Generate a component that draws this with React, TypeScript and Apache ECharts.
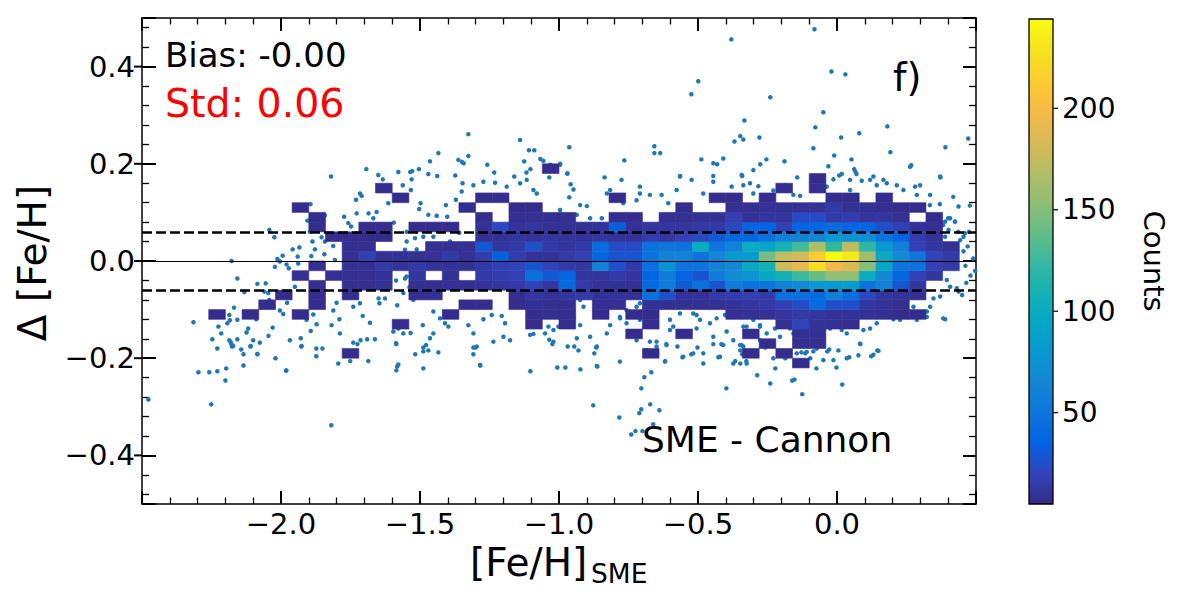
import React, { useEffect, useRef } from 'react';
import * as echarts from 'echarts';

const FONT = 'DejaVu Sans';

// axes
const X_MIN = -2.5;
const X_MAX = 0.5;
const X_MAJOR = 0.5;
const Y_MIN = -0.5;
const Y_MAX = 0.5;
const Y_MAJOR = 0.2;
const Y_TICKS = [-0.4, -0.2, 0, 0.2, 0.4];

// 2-D histogram binning
const BIN_X0 = -2.5;
const BIN_W = 0.06;
const BIN_Y0 = -0.5;
const BIN_H = 0.02;

// colour bar
const CB_MIN = 5;
const CB_MAX = 244;
const CB_TICKS = [50, 100, 150, 200];

// statistics
const BIAS = 0;
const BIAS_LABEL = '-0.00';
const STD = 0.06;

const PARULA = [
  '#352a87', '#3243ba', '#0363e1', '#0d75dc', '#1485d4', '#0998d1', '#06a7c6', '#15b1b4',
  '#38b99e', '#65be86', '#92bf73', '#b7bd64', '#d9ba56', '#f8ba44', '#fcce2e', '#f5e41d', '#f9fb0e',
];

// [row index j, first column index i, counts for consecutive columns (0 = empty)]
const HIST_ROWS: [number, number, number[]][] = [
  [14, 39, [7]],
  [15, 12, [7]],
  [15, 30, [7, 0, 0, 0, 0, 0, 7, 0, 7]],
  [16, 37, [7, 0, 8, 8]],
  [17, 29, [7, 0, 0, 7, 0, 0, 0, 7, 0, 0, 9, 9]],
  [18, 15, [7, 0, 0, 0, 0, 0, 0, 0, 7, 0, 7, 0, 0, 0, 0, 7, 0, 0, 0, 0, 0, 0, 0, 8, 20, 10, 9, 7]],
  [19, 4, [7, 0, 7, 0, 0, 7]],
  [19, 18, [7, 0, 0, 0, 0, 7, 8, 8, 0, 7, 0, 7, 7, 0, 0, 0, 0, 8, 9, 9, 12, 14, 12, 10, 10, 9, 8, 7, 7]],
  [20, 7, [7, 0, 0, 7]],
  [20, 19, [7, 7, 0, 7, 9, 8, 8, 0, 8, 8, 0, 9, 8, 8, 9, 9, 10, 12, 14, 18, 24, 42, 26, 26, 12, 10, 8]],
  [21, 8, [7, 0, 7, 0, 7, 0, 0, 0, 8, 8, 0, 0, 0, 0, 8, 12, 10, 12, 14, 9, 10, 9, 46, 26, 10, 10, 14, 16, 18, 14, 44, 46, 40, 58, 44, 22, 12, 10, 8]],
  [22, 10, [8, 0, 8, 8, 9, 0, 8, 8, 9, 8, 10, 12, 14, 20, 12, 40, 14, 10, 9, 9, 40, 56, 30, 46, 28, 56, 48, 48, 62, 68, 80, 82, 86, 48, 62, 28, 12]],
  [23, 9, [8, 0, 9, 8, 8, 10, 0, 12, 0, 9, 0, 14, 16, 18, 46, 30, 38, 12, 11, 14, 12, 38, 56, 36, 28, 56, 70, 76, 96, 108, 126, 140, 155, 155, 100, 66, 38, 18, 12]],
  [24, 10, [8, 0, 9, 9, 14, 10, 14, 10, 10, 9, 14, 18, 20, 28, 20, 15, 12, 62, 26, 14, 46, 74, 50, 50, 62, 68, 98, 108, 178, 192, 225, 196, 185, 150, 96, 50, 48, 18, 14]],
  [25, 12, [8, 18, 9, 10, 9, 10, 14, 9, 16, 34, 16, 10, 10, 15, 18, 38, 27, 27, 48, 62, 62, 48, 66, 82, 84, 145, 175, 182, 212, 244, 232, 160, 98, 68, 50, 20, 15]],
  [26, 12, [8, 8, 0, 0, 0, 8, 8, 8, 30, 12, 14, 26, 14, 12, 14, 42, 24, 24, 48, 50, 48, 100, 50, 62, 100, 92, 110, 128, 165, 122, 172, 120, 80, 60, 18, 12, 9]],
  [27, 11, [7, 7, 7, 7, 0, 0, 0, 0, 0, 9, 9, 12, 10, 12, 11, 10, 12, 10, 10, 16, 12, 18, 22, 30, 38, 38, 48, 60, 62, 64, 80, 76, 72, 48, 36, 16, 10]],
  [28, 10, [7, 0, 0, 7, 7, 0, 7, 7, 7, 0, 10, 22, 10, 12, 9, 9, 9, 10, 33, 10, 12, 12, 12, 14, 14, 22, 36, 36, 18, 36, 38, 42, 36, 36, 26, 18, 10, 8]],
  [29, 10, [7]],
  [29, 20, [7, 0, 8, 8, 8, 8, 0, 0, 7, 7, 0, 8, 8, 9, 9, 18, 10, 12, 11, 24, 24, 14, 16, 11, 12, 9, 0, 7]],
  [30, 9, [7]],
  [30, 19, [7, 0, 0, 7, 7]],
  [30, 32, [7, 0, 0, 8, 9, 10, 9, 9, 10, 14, 9, 9, 8, 7, 7]],
  [31, 15, [7, 0, 0, 0, 0, 7, 7, 0, 0, 0, 0, 0, 0, 7, 0, 0, 0, 0, 0, 7, 7, 0, 7, 0, 0, 0, 7, 7, 0, 7]],
  [32, 14, [7]],
  [32, 38, [7, 0, 8]],
  [33, 40, [7]],
  [34, 24, [7]],
];

// individual stars outside the dense bins: [Fe/H]_SME, delta [Fe/H]
const POINTS_TOP: [number, number][] = [
  [-1.820, 0.174], [-1.693, 0.189], [-1.650, 0.177], [-1.578, 0.183], [-1.535, 0.183], [-1.528, 0.185],
  [-1.504, 0.189], [-1.470, 0.179], [-1.464, 0.205], [-1.434, 0.222], [-1.438, 0.175], [-1.373, 0.176],
  [-1.362, 0.208], [-1.349, 0.204], [-1.343, 0.201], [-1.326, 0.261], [-1.326, 0.216], [-1.258, 0.198],
  [-1.233, 0.182], [-1.161, 0.174], [-1.140, 0.249], [-1.125, 0.205], [-1.117, 0.182], [-1.103, 0.189],
  [-1.108, 0.228], [-1.089, 0.228], [-1.067, 0.210], [-1.056, 0.206], [-1.035, 0.172], [-0.996, 0.198],
  [-0.970, 0.180], [-0.963, 0.234], [-0.836, 0.172], [-0.765, 0.207], [-0.657, 0.236], [-0.657, 0.222],
  [-0.636, 0.222], [-0.564, 0.175], [-0.524, 0.343], [-0.499, 0.370], [-0.488, 0.209], [-0.445, 0.201],
  [-0.431, 0.199], [-0.445, 0.175], [-0.409, 0.211], [-0.380, 0.456], [-0.369, 0.246], [-0.348, 0.257],
  [-0.337, 0.250], [-0.333, 0.289], [-0.341, 0.175], [-0.301, 0.187], [-0.279, 0.254], [-0.276, 0.199],
  [-0.254, 0.209], [-0.240, 0.337], [-0.189, 0.205], [-0.143, 0.172], [-0.085, 0.232], [-0.081, 0.477],
  [-0.078, 0.275], [-0.049, 0.306], [-0.031, 0.195], [-0.020, 0.390], [-0.010, 0.217], [0.015, 0.254],
  [0.008, 0.176], [0.030, 0.384], [0.052, 0.209], [0.062, 0.189], [0.066, 0.184], [0.070, 0.179],
  [0.080, 0.263], [0.131, 0.174], [0.181, 0.277], [0.192, 0.224], [0.267, 0.197], [0.372, 0.172],
  [0.390, 0.234], [0.472, 0.252],
];

const POINTS_BOTTOM: [number, number][] = [
  [-2.229, -0.180], [-2.176, -0.176], [-2.179, -0.171], [-2.143, -0.182], [-2.135, -0.192], [-2.110, -0.176],
  [-2.085, -0.192], [-2.020, -0.200], [-1.927, -0.176], [-1.873, -0.180], [-1.851, -0.180], [-1.873, -0.196],
  [-1.725, -0.171], [-1.585, -0.171], [-1.488, -0.178], [-1.488, -0.186], [-1.470, -0.184], [-1.517, -0.192],
  [-1.434, -0.188], [-1.308, -0.178], [-1.301, -0.178], [-1.308, -0.192], [-1.024, -0.171], [-2.297, -0.229],
  [-2.258, -0.229], [-2.229, -0.227], [-2.197, -0.221], [-2.200, -0.246], [-2.135, -0.215], [-1.981, -0.225],
  [-1.794, -0.211], [-1.751, -0.206], [-1.686, -0.206], [-1.585, -0.225], [-1.582, -0.217], [-1.578, -0.213],
  [-1.488, -0.221], [-1.283, -0.215], [-1.103, -0.227], [-1.006, -0.219], [-2.477, -0.285], [-2.251, -0.295],
  [-1.819, -0.338], [-1.284, -0.214],
  [-0.969, -0.176], [-0.945, -0.176], [-0.930, -0.184], [-0.866, -0.178], [-0.873, -0.190], [-0.977, -0.219],
  [-0.923, -0.223], [-0.862, -0.217], [-0.877, -0.297], [-0.783, -0.322], [-0.740, -0.357], [-0.725, -0.350],
  [-0.700, -0.350], [-0.661, -0.336], [-0.711, -0.313], [-0.704, -0.305], [-0.672, -0.295], [-0.639, -0.307],
  [-0.704, -0.262], [-0.693, -0.239], [-0.668, -0.229], [-0.618, -0.206], [-0.614, -0.171], [-0.574, -0.176],
  [-0.556, -0.198], [-0.524, -0.192], [-0.502, -0.178], [-0.481, -0.211], [-0.445, -0.171], [-0.416, -0.171],
  [-0.427, -0.198], [-0.398, -0.262], [-0.366, -0.206], [-0.348, -0.211], [-0.348, -0.184], [-0.341, -0.192],
  [-0.337, -0.176], [-0.326, -0.206], [-0.287, -0.235], [-0.258, -0.178], [-0.240, -0.252], [-0.222, -0.221],
  [-0.186, -0.200], [-0.161, -0.246], [-0.153, -0.244], [-0.125, -0.274], [-0.128, -0.188], [-0.114, -0.190],
  [-0.096, -0.200], [-0.074, -0.221], [-0.085, -0.186], [-0.035, -0.186], [-0.028, -0.182], [-0.002, -0.219],
  [0.005, -0.184], [0.019, -0.254], [0.044, -0.198], [0.077, -0.194], [0.084, -0.171], [0.123, -0.196],
  [0.145, -0.184], [-0.864, -0.216], [-0.781, -0.207], [-0.685, -0.183], [-0.649, -0.176], [-0.619, -0.207],
  [-0.553, -0.197], [-0.517, -0.190], [-0.421, -0.197], [-0.373, -0.211], [-0.343, -0.173], [-0.325, -0.211],
  [-0.277, -0.163], [-0.229, -0.200], [-0.145, -0.190], [-0.109, -0.187], [-0.073, -0.180], [-0.049, -0.204],
  [-0.013, -0.204], [0.035, -0.200], [0.083, -0.170], [0.131, -0.193], [0.149, -0.185],
];

const POINTS_LEFT: [number, number][] = [
  [-2.315, -0.126], [-2.247, -0.161], [-2.225, -0.135], [-2.215, -0.149], [-2.193, -0.128], [-2.186, -0.111],
  [-2.184, -0.122], [-2.186, -0.163], [-2.181, -0.167], [-2.172, -0.175], [-2.157, -0.161], [-2.178, 0.000],
  [-2.157, -0.036], [-2.169, -0.096], [-2.157, -0.121], [-2.124, -0.147], [-2.118, -0.139], [-2.089, -0.120],
  [-2.132, -0.064], [-2.085, -0.047], [-2.055, -0.046], [-2.060, -0.063], [-2.046, -0.066], [-2.100, -0.163],
  [-2.076, -0.168], [-2.085, -0.191], [-2.109, -0.175], [-2.042, 0.064], [-2.024, 0.049], [-2.022, -0.012],
  [-2.013, 0.004], [-2.004, -0.001], [-1.994, 0.011], [-1.980, -0.007], [-1.972, -0.015], [-1.938, -0.005],
  [-1.958, 0.024], [-1.934, 0.028], [-1.940, 0.009], [-2.042, -0.080], [-2.027, -0.094], [-2.008, -0.073],
  [-1.978, -0.086], [-2.004, -0.102], [-1.992, -0.109], [-1.950, -0.053], [-2.045, -0.154], [-2.030, -0.137],
  [-1.982, -0.226], [-1.968, -0.163], [-1.929, -0.159], [-1.926, -0.175], [-1.908, -0.121], [-1.893, -0.144],
  [-1.884, -0.110], [-1.872, -0.130], [-1.894, 0.117], [-1.905, 0.083], [-1.896, 0.060], [-1.887, 0.040],
  [-1.878, 0.024], [-1.891, 0.010], [-1.842, 0.094], [-1.842, 0.040], [-1.844, 0.014], [-1.854, 0.049],
  [-1.812, 0.031], [-1.806, 0.002], [-1.812, -0.102], [-1.818, -0.132], [-1.788, -0.149], [-1.790, -0.120],
  [-1.800, -0.086], [-1.740, -0.168], [-1.714, -0.163], [-1.690, -0.161], [-1.662, -0.161], [-1.773, 0.091],
  [-1.758, 0.078], [-1.748, 0.071], [-1.728, 0.098], [-1.730, 0.126], [-1.716, 0.139], [-1.710, 0.134],
  [-1.634, 0.168], [-1.614, 0.149], [-1.685, 0.098], [-1.656, 0.101], [-1.668, 0.088], [-1.614, 0.119],
  [-1.594, 0.079], [-1.562, 0.156], [-1.530, 0.168], [-1.533, 0.146], [-1.740, -0.094], [-1.716, -0.087],
  [-1.706, -0.113], [-1.680, -0.127], [-1.649, -0.077], [-1.626, -0.077], [-1.646, -0.087], [-1.586, -0.040],
  [-1.554, -0.036], [-1.548, -0.032], [-1.526, -0.031], [-1.538, -0.054], [-1.560, -0.066], [-1.524, -0.080],
  [-1.582, -0.091], [-1.596, -0.145], [-1.578, -0.139], [-1.586, -0.169], [-1.560, -0.149], [-1.534, -0.148],
  [-1.490, -0.132], [-1.478, -0.173], [-1.464, -0.159], [-1.452, -0.149], [-1.548, 0.060], [-1.548, 0.040],
  [-1.518, 0.047], [-1.554, 0.023], [-1.512, 0.024], [-1.488, 0.050], [-1.452, 0.050], [-1.498, 0.119],
  [-1.503, 0.107], [-1.470, 0.095], [-1.440, 0.093], [-1.407, 0.115], [-1.402, 0.091], [-1.371, 0.126],
  [-1.350, 0.143], [-1.347, 0.160], [-1.308, 0.156], [-1.272, 0.163], [-1.230, 0.161], [-1.188, 0.153],
  [-1.140, 0.160], [-1.116, 0.167], [-1.092, 0.146], [-1.080, 0.139], [-1.392, 0.040], [-1.359, 0.058],
  [-1.356, 0.023], [-1.428, -0.118], [-1.410, -0.128], [-1.398, -0.135], [-1.452, -0.104], [-1.374, -0.114],
  [-1.326, -0.132], [-1.308, -0.149], [-1.272, -0.120], [-1.242, -0.111], [-1.206, -0.113], [-1.194, -0.128],
  [-1.296, -0.176], [-1.236, -0.166], [-1.200, -0.156], [-1.176, -0.163], [-1.104, -0.152], [-1.092, -0.150],
  [-1.050, -0.149], [-1.035, -0.162], [-1.020, -0.142], [-1.002, -0.135],
];

const POINTS_RIGHT: [number, number][] = [
  [-1.032, 0.198], [-0.996, 0.200], [-0.970, 0.180], [-0.958, 0.158], [-0.948, 0.147], [-0.963, 0.131],
  [-0.924, 0.115], [-0.900, 0.113], [-0.996, 0.105], [-1.014, 0.091], [-1.044, 0.084], [-0.984, 0.095],
  [-0.936, 0.095], [-0.888, 0.088], [-0.846, 0.088], [-0.828, 0.139], [-0.816, 0.146], [-0.769, 0.119],
  [-0.775, 0.167], [-0.709, 0.153], [-0.709, 0.139], [-0.721, 0.125], [-0.673, 0.136], [-0.631, 0.136],
  [-0.607, 0.119], [-0.577, 0.146], [-0.565, 0.174], [-0.523, 0.167], [-0.481, 0.139], [-0.445, 0.163],
  [-0.379, 0.153], [-0.343, 0.177], [-0.337, 0.156], [-0.313, 0.160], [-0.301, 0.139], [-0.283, 0.154],
  [-0.229, 0.145], [-0.187, 0.156], [-0.157, 0.136], [-0.133, 0.134], [-0.037, 0.153], [-0.013, 0.168],
  [0.017, 0.179], [0.047, 0.167], [0.047, 0.146], [0.089, 0.165], [0.119, 0.167], [0.143, 0.156],
  [0.167, 0.167], [0.179, 0.160], [0.215, 0.156], [0.239, 0.146], [0.263, 0.194], [0.281, 0.153],
  [0.287, 0.136], [0.299, 0.156], [0.335, 0.136], [0.371, 0.174], [0.418, 0.132], [0.437, 0.112],
  [0.329, 0.074], [0.347, 0.084], [0.371, 0.078], [0.389, 0.081], [0.407, 0.088], [0.425, 0.081],
  [0.401, 0.064], [0.389, 0.050], [0.443, 0.043], [0.455, 0.020], [0.470, 0.030], [0.462, -0.010],
  [0.480, -0.030], [0.490, 0.005], [0.465, -0.045], [0.455, 0.050], [0.475, 0.060], [0.450, -0.070],
  [0.497, -0.020], [0.395, -0.039], [0.407, -0.053], [0.431, -0.056], [0.437, -0.063], [0.371, -0.073],
  [0.347, -0.077], [0.335, -0.094], [0.389, -0.120],
  [0.334, 0.115], [0.370, 0.117], [0.400, 0.088], [0.424, 0.081], [0.382, 0.074], [0.436, 0.060],
  [0.460, 0.057], [0.478, 0.114], [-0.990, 0.095], [-0.978, 0.078], [-0.960, 0.071],
  [-0.924, -0.080], [-0.912, -0.094], [-0.948, -0.115], [-0.960, -0.134], [-1.038, -0.135], [-1.020, -0.166],
  [-0.936, -0.159], [-0.888, -0.156], [-0.864, -0.176], [-0.828, -0.149], [-0.816, -0.132], [-0.781, -0.115],
  [-0.757, -0.128], [-0.721, -0.163], [-0.709, -0.087], [-0.673, -0.166], [-0.649, -0.166], [-0.613, -0.173],
  [-0.601, -0.142], [-0.565, -0.149], [-0.517, -0.108], [-0.505, -0.139], [-0.445, -0.156], [-0.409, -0.173],
  [-0.481, -0.190], [-0.457, -0.128], [-0.397, -0.145], [-0.373, -0.163], [-0.349, -0.173], [-0.325, -0.135],
  [-0.301, -0.121], [-0.277, -0.135], [-0.253, -0.149], [-0.223, -0.139], [-0.205, -0.156], [-0.169, -0.139],
  [-0.157, -0.149], [-0.133, -0.121], [-0.109, -0.145], [-0.097, -0.121], [-0.061, -0.132], [-0.025, -0.139],
  [-0.013, -0.128], [0.017, -0.142], [0.035, -0.149], [0.071, -0.128], [0.095, -0.142], [0.119, -0.139],
  [0.143, -0.128], [0.167, -0.115], [0.203, -0.120], [0.227, -0.121], [0.251, -0.115], [0.287, -0.121],
  [0.323, -0.115], [-0.924, -0.132], [-0.780, -0.118], [-0.757, -0.101], [-0.721, -0.094], [-0.709, -0.121],
  [-0.601, -0.121], [-0.589, -0.135], [-0.565, -0.108], [-0.505, -0.111], [-0.493, -0.121], [-0.433, -0.118],
  [-0.403, -0.111], [-0.337, -0.135], [-0.277, -0.132], [-0.205, -0.134], [0.203, -0.108], [0.239, -0.104],
  [0.275, -0.094], [0.323, -0.104], [0.382, -0.118],
];

const fmt = (v: number, d: number) => (v < -1e-9 ? '\u2212' : '') + Math.abs(v).toFixed(d);
const isEdge = (v: number, a: number, b: number) => Math.abs(v - a) < 1e-9 || Math.abs(v - b) < 1e-9;

function buildOption() {
  const cells: number[][] = [];
  HIST_ROWS.forEach(([j, i0, counts]) => {
    counts.forEach((c, k) => {
      if (c > 0) cells.push([BIN_X0 + (i0 + k) * BIN_W, BIN_Y0 + j * BIN_H, c]);
    });
  });
  const points = [...POINTS_TOP, ...POINTS_BOTTOM, ...POINTS_LEFT, ...POINTS_RIGHT];

  const frameLine = { show: true, onZero: false, lineStyle: { color: '#000', width: 1.5 } };
  const majorTick = (len: number) => ({ show: true, inside: true, length: len, lineStyle: { color: '#000', width: 2 } });
  const minorTick = (len: number) => ({ show: true, splitNumber: 5, length: len, lineStyle: { color: '#000', width: 1.3 } });
  const tickLabel = { color: '#000', fontSize: 29, fontFamily: FONT };

  const xCommon = {
    type: 'value', min: X_MIN, max: X_MAX, interval: X_MAJOR,
    axisLine: frameLine, axisTick: majorTick(13), minorTick: minorTick(6.5),
    splitLine: { show: false }, minorSplitLine: { show: false },
  };
  const yCommon = {
    type: 'value', min: Y_MIN, max: Y_MAX, minInterval: Y_MAJOR, maxInterval: Y_MAJOR, splitNumber: 5,
    axisLine: frameLine, minorTick: minorTick(7),
    splitLine: { show: false }, minorSplitLine: { show: false },
  };

  const txt = (x: number, y: number, text: string, fontSize: number, extra: any = {}, rotation = 0) => ({
    type: 'text', x, y, rotation, z: 20, silent: true,
    style: { text, fontSize, fontFamily: FONT, fill: '#000', align: 'left', verticalAlign: 'middle', ...extra },
  });

  const gradientStops = PARULA.map((c, k) => ({ offset: k / (PARULA.length - 1), color: c }));

  return {
    animation: false,
    textStyle: { fontFamily: FONT },
    grid: [
      { left: 142, top: 18, width: 834, height: 486, containLabel: false, outerBoundsMode: 'none' },
      { left: 1029, top: 19, width: 24, height: 485, containLabel: false, outerBoundsMode: 'none' },
    ],
    xAxis: [
      {
        ...xCommon, gridIndex: 0, position: 'bottom',
        axisLabel: {
          ...tickLabel, margin: 5, showMinLabel: false, showMaxLabel: false,
          formatter: (v: number) => (isEdge(v, X_MIN, X_MAX) ? '' : fmt(v, 1)),
        },
      },
      { ...xCommon, gridIndex: 0, position: 'top', axisLabel: { show: false } },
      { type: 'value', gridIndex: 1, min: 0, max: 1, show: false },
    ],
    yAxis: [
      {
        ...yCommon, gridIndex: 0, position: 'left', axisTick: majorTick(14),
        axisLabel: {
          ...tickLabel, margin: 7, showMinLabel: false, showMaxLabel: false,
          formatter: (v: number) => (isEdge(v, Y_MIN, Y_MAX) ? '' : fmt(v, 1)),
        },
      },
      { ...yCommon, gridIndex: 0, position: 'right', axisTick: majorTick(13), axisLabel: { show: false } },
      {
        type: 'value', gridIndex: 1, position: 'right', min: CB_MIN, max: CB_MAX,
        axisLine: { show: false }, axisTick: { show: false }, splitLine: { show: false },
        axisLabel: {
          color: '#000', fontSize: 28, fontFamily: FONT, margin: 9,
          formatter: (v: number) => (CB_TICKS.indexOf(v) >= 0 ? String(v) : ''),
        },
      },
    ],
    visualMap: [
      {
        type: 'continuous', show: false, seriesIndex: 1, dimension: 2,
        min: CB_MIN, max: CB_MAX, inRange: { color: PARULA },
      },
    ],
    series: [
      {
        type: 'scatter', xAxisIndex: 0, yAxisIndex: 0, data: points, symbolSize: 4.5, z: 1, silent: true,
        itemStyle: { color: '#1f77b4', opacity: 1 },
        markLine: {
          silent: true, symbol: 'none', label: { show: false }, emphasis: { disabled: true },
          data: [
            { yAxis: STD, lineStyle: { color: '#000', width: 2.6, type: [10, 4] } },
            { yAxis: -STD, lineStyle: { color: '#000', width: 2.6, type: [10, 4] } },
            { yAxis: BIAS, lineStyle: { color: '#000', width: 1.2, type: 'solid' } },
          ],
        },
      },
      {
        type: 'custom', xAxisIndex: 0, yAxisIndex: 0, data: cells, z: 2, silent: true,
        encode: { x: 0, y: 1 },
        renderItem: (_p: any, api: any) => {
          const x0 = api.value(0);
          const y0 = api.value(1);
          const a = api.coord([x0, y0]);
          const b = api.coord([x0 + BIN_W, y0 + BIN_H]);
          const color = api.visual('color');
          return {
            type: 'rect',
            shape: { x: a[0], y: b[1], width: b[0] - a[0], height: a[1] - b[1] },
            style: { fill: color, stroke: color, lineWidth: 0.6 },
          };
        },
      },
      {
        type: 'custom', xAxisIndex: 0, yAxisIndex: 0, z: 6, clip: false, silent: true,
        data: Y_TICKS.map((v) => [X_MIN, v]),
        encode: { x: 0, y: 1 },
        renderItem: (_p: any, api: any) => {
          const p = api.coord([api.value(0), api.value(1)]);
          return {
            type: 'line',
            shape: { x1: p[0] - 8, y1: p[1], x2: p[0], y2: p[1] },
            style: { stroke: '#000', lineWidth: 2 },
          };
        },
      },
      {
        type: 'custom', xAxisIndex: 2, yAxisIndex: 2, z: 2, silent: true,
        data: [[0, CB_MIN, 1, CB_MAX]],
        encode: { x: [0, 2], y: [1, 3] },
        renderItem: (_p: any, api: any) => {
          const a = api.coord([api.value(0), api.value(1)]);
          const b = api.coord([api.value(2), api.value(3)]);
          return {
            type: 'rect',
            shape: { x: a[0], y: b[1], width: b[0] - a[0], height: a[1] - b[1] },
            style: {
              fill: new echarts.graphic.LinearGradient(0, 1, 0, 0, gradientStops),
              stroke: '#000', lineWidth: 1.3,
            },
          };
        },
      },
      {
        type: 'custom', xAxisIndex: 2, yAxisIndex: 2, z: 3, clip: false, silent: true,
        data: CB_TICKS.map((v) => [1, v]),
        encode: { x: 0, y: 1 },
        renderItem: (_p: any, api: any) => {
          const p = api.coord([api.value(0), api.value(1)]);
          return {
            type: 'line',
            shape: { x1: p[0], y1: p[1], x2: p[0] + 5, y2: p[1] },
            style: { stroke: '#000', lineWidth: 1.2 },
          };
        },
      },
    ],
    graphic: [
      txt(165, 55, 'Bias: ' + BIAS_LABEL, 34),
      txt(165, 103, 'Std: ' + STD.toFixed(2), 39.5, { fill: '#ff0000' }),
      txt(893, 77, 'f)', 38.5),
      txt(642, 439, 'SME - Cannon', 36),
      txt(470, 562, '[Fe/H]', 39),
      txt(591, 573, 'SME', 26.5),
      txt(32, 263, '\u0394 [Fe/H]', 39, { align: 'center' }, Math.PI / 2),
      txt(1154, 261, 'Counts', 29, { align: 'center' }, -Math.PI / 2),
    ],
  };
}

export default function App() {
  const ref = useRef<HTMLDivElement>(null);
  useEffect(() => {
    if (!ref.current) return;
    const chart = echarts.init(ref.current, undefined, { renderer: 'svg' });
    chart.setOption(buildOption() as any);
    return () => chart.dispose();
  }, []);
  return (
    <div
      ref={ref}
      style={{ position: 'fixed', left: 0, top: 0, width: 1200, height: 600, background: '#fff' }}
    />
  );
}
